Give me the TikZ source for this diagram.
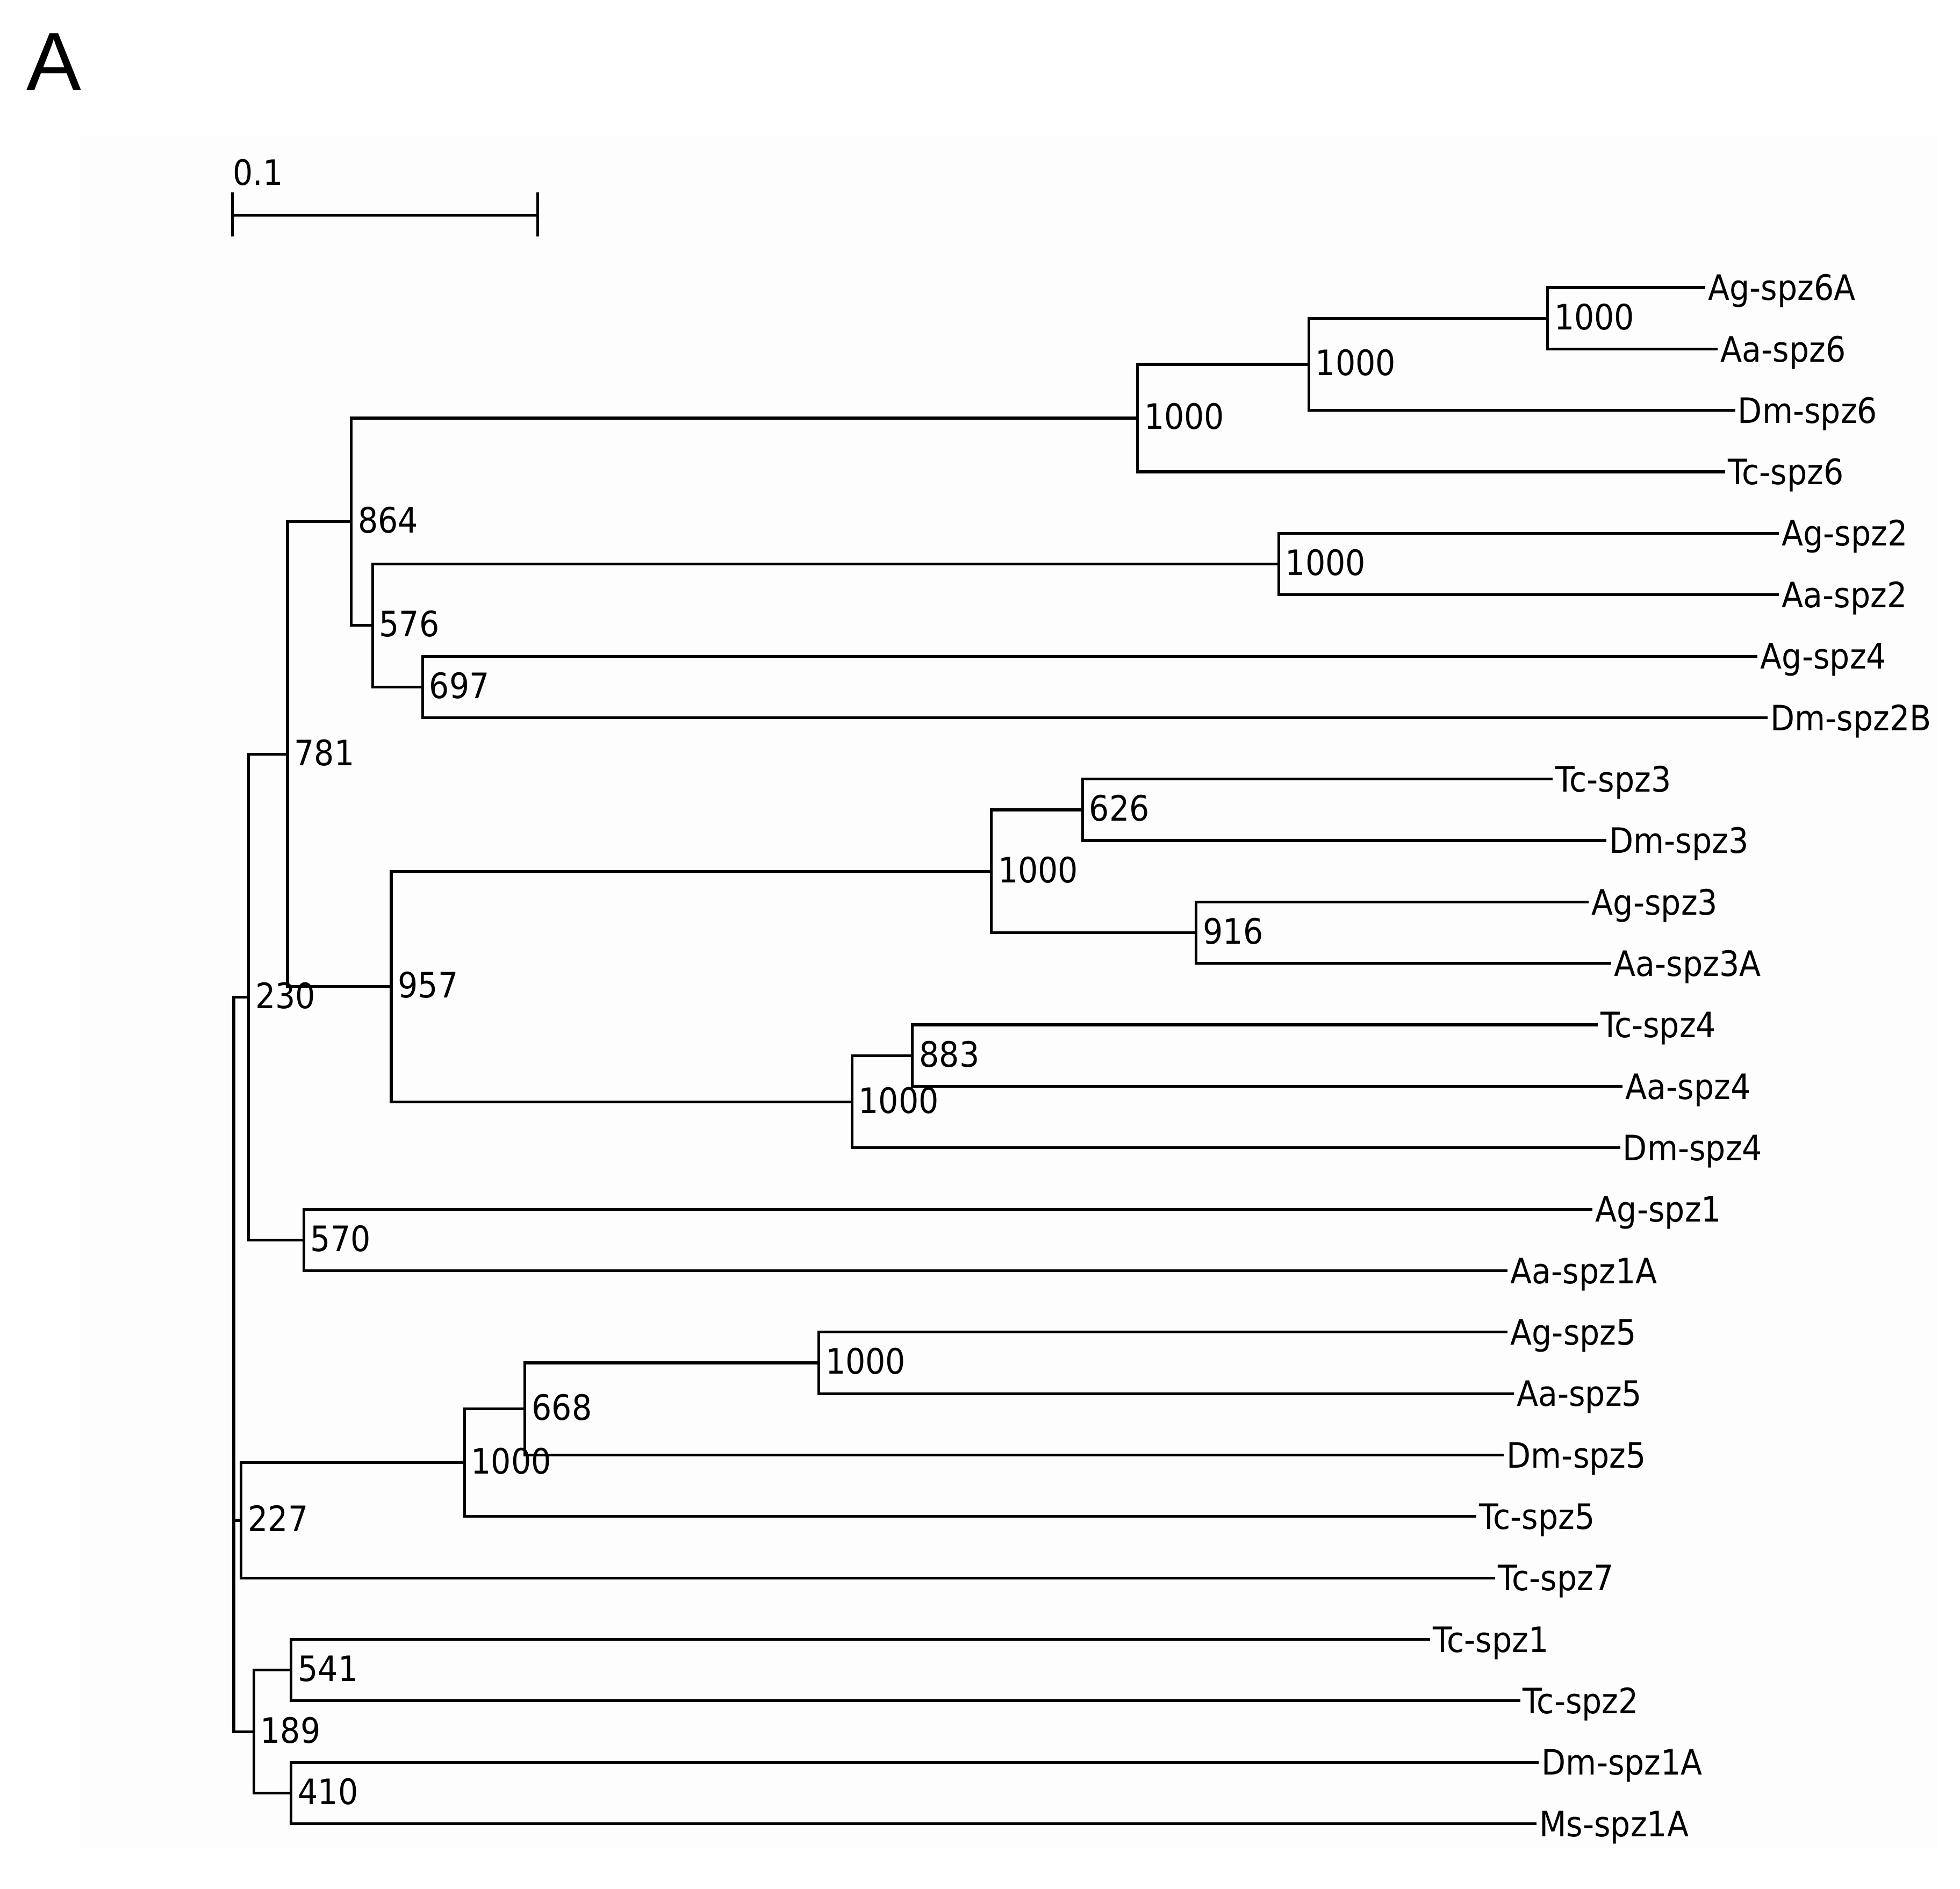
\documentclass[tikz,border=0pt]{standalone}
\usepackage{fontspec}
\newfontfamily\treefont[FakeStretch=0.9]{DejaVu Sans}
\newfontfamily\panelfont{Liberation Sans}
\definecolor{bgcol}{RGB}{253,253,253}
\begin{document}
\begin{tikzpicture}[x=0.5pt,y=-0.5pt,
  branch/.style={line width=1.1pt, line cap=rect},
  txt/.style={inner ysep=0pt, text height=10.2pt, text depth=0pt,
    font=\treefont\fontsize{14}{16}\selectfont},
  leaf/.style={txt, anchor=west, inner xsep=1.5pt},
  boot/.style={txt, anchor=west, inner xsep=2.5pt, yshift=0.6pt}]
\useasboundingbox (0,0) rectangle (1568,1511);
\fill[bgcol] (63.6,109) rectangle (1550,1478);

% panel letter
\node[anchor=base west, inner sep=0pt, font=\panelfont\fontsize{32.8}{36}\selectfont] (panel) at (21,72) {A};

% scale bar
\coordinate (sbl) at (186,172);
\coordinate (sbr) at (430,172);
\draw[branch] (sbl) -- (sbr);
\draw[branch] ([yshift=8.5pt]sbl) -- ([yshift=-8pt]sbl);
\draw[branch] ([yshift=8.5pt]sbr) -- ([yshift=-8pt]sbr);
\node[txt, anchor=west, inner xsep=0pt] (sblabel) at (186,138) {0.1};

% leaves
\node[leaf] (L0)  at (1363,230)    {Ag-spz6A};
\node[leaf] (L1)  at (1373,279.2)  {Aa-spz6};
\node[leaf] (L2)  at (1387,328.3)  {Dm-spz6};
\node[leaf] (L3)  at (1379,377.5)  {Tc-spz6};
\node[leaf] (L4)  at (1422,426.6)  {Ag-spz2};
\node[leaf] (L5)  at (1422,475.8)  {Aa-spz2};
\node[leaf] (L6)  at (1405,525)    {Ag-spz4};
\node[leaf] (L7)  at (1413,574.1)  {Dm-spz2B};
\node[leaf] (L8)  at (1241,623.3)  {Tc-spz3};
\node[leaf] (L9)  at (1284,672.4)  {Dm-spz3};
\node[leaf] (L10) at (1270,721.6)  {Ag-spz3};
\node[leaf] (L11) at (1288,770.8)  {Aa-spz3A};
\node[leaf] (L12) at (1277,819.9)  {Tc-spz4};
\node[leaf] (L13) at (1297,869.1)  {Aa-spz4};
\node[leaf] (L14) at (1295,918.2)  {Dm-spz4};
\node[leaf] (L15) at (1273,967.4)  {Ag-spz1};
\node[leaf] (L16) at (1205,1016.6) {Aa-spz1A};
\node[leaf] (L17) at (1205,1065.7) {Ag-spz5};
\node[leaf] (L18) at (1210,1114.9) {Aa-spz5};
\node[leaf] (L19) at (1202,1164)   {Dm-spz5};
\node[leaf] (L20) at (1180,1213.2) {Tc-spz5};
\node[leaf] (L21) at (1195,1262.4) {Tc-spz7};
\node[leaf] (L22) at (1143,1311.5) {Tc-spz1};
\node[leaf] (L23) at (1215,1360.7) {Tc-spz2};
\node[leaf] (L24) at (1230,1409.8) {Dm-spz1A};
\node[leaf] (L25) at (1228,1459)   {Ms-spz1A};

% internal nodes
\coordinate (n1)  at (1238,254.6);
\coordinate (n2)  at (1047,291.5);
\coordinate (n3)  at (910,334.5);
\coordinate (n4)  at (1023,451.2);
\coordinate (n5)  at (338,549.6);
\coordinate (n6)  at (298,500.4);
\coordinate (n7)  at (281,417.4);
\coordinate (n8)  at (866,647.9);
\coordinate (n9)  at (957,746.2);
\coordinate (n10) at (793,697);
\coordinate (n11) at (730,844.5);
\coordinate (n12) at (681.5,881.4);
\coordinate (n13) at (313,789.2);
\coordinate (n14) at (230,603.3);
\coordinate (n15) at (243,992);
\coordinate (n16) at (199,797.6);
\coordinate (n17) at (655,1090.3);
\coordinate (n18) at (420,1127.2);
\coordinate (n19) at (371.5,1170.2);
\coordinate (n20) at (193,1216.3);
\coordinate (n21) at (233,1336.1);
\coordinate (n22) at (233,1434.4);
\coordinate (n23) at (203,1385.3);
\coordinate (root) at (187,1090);

% branches
\draw[branch] (n1) |- (L0.west);  \draw[branch] (n1) |- (L1.west);
\draw[branch] (n2) |- (n1);       \draw[branch] (n2) |- (L2.west);
\draw[branch] (n3) |- (n2);       \draw[branch] (n3) |- (L3.west);
\draw[branch] (n4) |- (L4.west);  \draw[branch] (n4) |- (L5.west);
\draw[branch] (n5) |- (L6.west);  \draw[branch] (n5) |- (L7.west);
\draw[branch] (n6) |- (n4);       \draw[branch] (n6) |- (n5);
\draw[branch] (n7) |- (n3);       \draw[branch] (n7) |- (n6);
\draw[branch] (n8) |- (L8.west);  \draw[branch] (n8) |- (L9.west);
\draw[branch] (n9) |- (L10.west); \draw[branch] (n9) |- (L11.west);
\draw[branch] (n10) |- (n8);      \draw[branch] (n10) |- (n9);
\draw[branch] (n11) |- (L12.west); \draw[branch] (n11) |- (L13.west);
\draw[branch] (n12) |- (n11);     \draw[branch] (n12) |- (L14.west);
\draw[branch] (n13) |- (n10);     \draw[branch] (n13) |- (n12);
\draw[branch] (n14) |- (n7);      \draw[branch] (n14) |- (n13);
\draw[branch] (n15) |- (L15.west); \draw[branch] (n15) |- (L16.west);
\draw[branch] (n16) |- (n14);     \draw[branch] (n16) |- (n15);
\draw[branch] (n17) |- (L17.west); \draw[branch] (n17) |- (L18.west);
\draw[branch] (n18) |- (n17);     \draw[branch] (n18) |- (L19.west);
\draw[branch] (n19) |- (n18);     \draw[branch] (n19) |- (L20.west);
\draw[branch] (n20) |- (n19);     \draw[branch] (n20) |- (L21.west);
\draw[branch] (n21) |- (L22.west); \draw[branch] (n21) |- (L23.west);
\draw[branch] (n22) |- (L24.west); \draw[branch] (n22) |- (L25.west);
\draw[branch] (n23) |- (n21);     \draw[branch] (n23) |- (n22);
\draw[branch] (root) |- (n16);    \draw[branch] (root) |- (n20);
\draw[branch] (root) |- (n23);

% bootstrap values
\node[boot] (b1)  at (n1)  {1000};
\node[boot] (b2)  at (n2)  {1000};
\node[boot] (b3)  at (n3)  {1000};
\node[boot] (b4)  at (n4)  {1000};
\node[boot] (b5)  at (n5)  {697};
\node[boot] (b6)  at (n6)  {576};
\node[boot] (b7)  at (n7)  {864};
\node[boot] (b8)  at (n8)  {626};
\node[boot] (b9)  at (n9)  {916};
\node[boot] (b10) at (n10) {1000};
\node[boot] (b11) at (n11) {883};
\node[boot] (b12) at (n12) {1000};
\node[boot] (b13) at (n13) {957};
\node[boot] (b14) at (n14) {781};
\node[boot] (b15) at (n15) {570};
\node[boot] (b16) at (n16) {230};
\node[boot] (b17) at (n17) {1000};
\node[boot] (b18) at (n18) {668};
\node[boot] (b19) at (n19) {1000};
\node[boot] (b20) at (n20) {227};
\node[boot] (b21) at (n21) {541};
\node[boot] (b22) at (n22) {410};
\node[boot] (b23) at (n23) {189};
\end{tikzpicture}
\end{document}
